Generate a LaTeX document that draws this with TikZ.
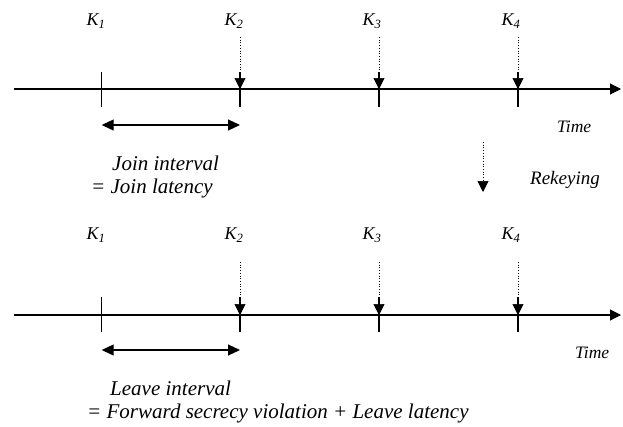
\documentclass[tikz,border=0pt]{standalone}
\usepackage{fontspec}
\setmainfont{Liberation Serif}
\usetikzlibrary{arrows.meta}
\begin{document}
\begin{tikzpicture}[x=1pt,y=-1pt,
  klbl/.style={font=\fontsize{18}{20}\selectfont\itshape, inner sep=0pt},
  tlbl/.style={font=\fontsize{17.5}{20}\selectfont\itshape, inner sep=0pt},
  rlbl/.style={font=\fontsize{19}{21}\selectfont\itshape, inner sep=0pt},
  dlbl/.style={font=\fontsize{21}{23}\selectfont\itshape, inner sep=0pt, anchor=west},
  axis/.style={line width=1.1pt, -{Triangle[length=11pt,width=11pt]}},
  tick/.style={line width=1.1pt},
  keyarrow/.style={line width=0.7pt, dotted, -{Triangle[length=11pt,width=11pt]}},
  interval/.style={line width=1.1pt, {Triangle[length=12pt,width=11pt]}-{Triangle[length=12pt,width=11pt]}}]
\useasboundingbox (0,0) rectangle (623,426);
% ---------- top timeline ----------
\coordinate (ts) at (14,89);
\coordinate (te) at (621,89);
\draw[axis] (ts) -- (te);
\foreach \i/\x in {1/101.7,2/240,3/379,4/518}{
  \coordinate (tt\i) at (\x,72);
  \coordinate (tb\i) at (\x,107);
  \coordinate (tm\i) at (\x,89);
  \draw[tick] (tt\i) -- (tb\i);
}
\node[klbl] (k1) at (96,21) {K\textsubscript{1}};
\node[klbl] (k2) at (234,21) {K\textsubscript{2}};
\node[klbl] (k3) at (372,21) {K\textsubscript{3}};
\node[klbl] (k4) at (511,21) {K\textsubscript{4}};
\foreach \i/\x in {2/240,3/379,4/518}{
  \coordinate (ta\i) at (\x,37);
  \draw[keyarrow] (ta\i) -- (tm\i);
}
\coordinate (ja) at (101.7,125);
\coordinate (jb) at (240,125);
\draw[interval] (ja) -- (jb);
\node[tlbl, anchor=west] (time1) at (557,127) {Time};
\node[dlbl] (join1) at (112,163) {Join interval};
\node[dlbl] (join2) at (91,188) {= Join latency};
% ---------- rekeying ----------
\coordinate (ra) at (483,142);
\coordinate (rb) at (483,192);
\draw[keyarrow] (ra) -- (rb);
\node[rlbl] (rekey) at (565,180) {Rekeying};
% ---------- bottom timeline ----------
\coordinate (bs) at (14,315);
\coordinate (be) at (621,315);
\draw[axis] (bs) -- (be);
\foreach \i/\x in {1/101.7,2/240,3/379,4/518}{
  \coordinate (bt\i) at (\x,297);
  \coordinate (bb\i) at (\x,332);
  \coordinate (bm\i) at (\x,315);
  \draw[tick] (bt\i) -- (bb\i);
}
\node[klbl] (l1) at (96,235) {K\textsubscript{1}};
\node[klbl] (l2) at (234,235) {K\textsubscript{2}};
\node[klbl] (l3) at (372,235) {K\textsubscript{3}};
\node[klbl] (l4) at (511,235) {K\textsubscript{4}};
\foreach \i/\x in {2/240,3/379,4/518}{
  \coordinate (ba\i) at (\x,262);
  \draw[keyarrow] (ba\i) -- (bm\i);
}
\coordinate (la) at (101.7,350);
\coordinate (lb) at (240,350);
\draw[interval] (la) -- (lb);
\node[tlbl, anchor=west] (time2) at (575,353) {Time};
\node[dlbl] (leave1) at (110,388) {Leave interval};
\node[dlbl] (leave2) at (87,413) {= Forward secrecy violation + Leave latency};
\end{tikzpicture}
\end{document}
